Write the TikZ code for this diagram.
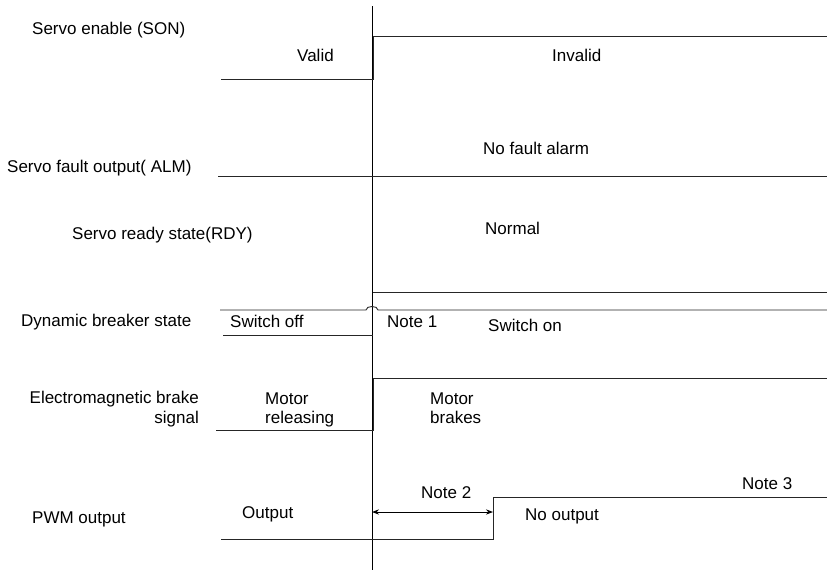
\documentclass[tikz,border=0pt]{standalone}
\usepackage{fontspec}
\setmainfont{Liberation Sans}
\usetikzlibrary{arrows.meta, positioning}

\begin{document}
\begin{tikzpicture}[
  x=1pt, y=-1pt,
  every node/.style={font=\fontsize{17}{19.5}\selectfont, inner sep=0pt},
  sig/.style={line width=0.9pt, black!85},
  lbl/.style={anchor=west, text height=12pt, text depth=0pt},
  lblr/.style={anchor=east, align=right},
  twoline/.style={anchor=west, align=left}
]
  \useasboundingbox (0,0) rectangle (827,573);

  % signal names
  \node[lbl] (sonname) at (32,28)  {Servo enable (SON)};
  \node[lbl] (almname) at (7,166)  {Servo fault output( ALM)};
  \node[lbl] (rdyname) at (72,233) {Servo ready state(RDY)};
  \node[lbl] (dbname)  at (21,320) {Dynamic breaker state};
  \node[lblr] (brkname) at (199,409) {Electromagnetic brake\\signal};
  \node[lbl] (pwmname) at (32,517) {PWM output};

  % states
  \node[lbl] (valid)   at (297,55)  {Valid};
  \node[lbl] (invalid) at (552,55)  {Invalid};
  \node[lbl] (nofault) at (483,148) {No fault alarm};
  \node[lbl] (normal)  at (485,228) {Normal};
  \node[lbl] (swoff)   at (230,321) {Switch off};
  \node[lbl] (note1)   at (387,321) {Note 1};
  \node[lbl] (swon)    at (488,325) {Switch on};
  \node[twoline] (release) at (265,410) {Motor\\releasing};
  \node[twoline] (brakes)  at (430,408) {Motor\\brakes};
  \node[lbl] (output)   at (242,512) {Output};
  \node[lbl] (note2)    at (421,492) {Note 2};
  \node[lbl] (nooutput) at (525,514) {No output};
  \node[lbl] (note3)    at (742,483) {Note 3};

  % time of SON off, and PWM cut
  \coordinate (ttop) at (372,6);
  \coordinate (tbot) at (372,570);
  \coordinate (pwmA) at (372,512);
  \coordinate (pwmB) at (493,512);
  \draw[line width=0.8pt] (ttop) -- (tbot);

  % waveforms
  \draw[sig] (221,79) -- (373,79) -- (373,36) -- (827,36);
  \draw[sig] (218,176) -- (827,176);
  \draw[sig] (373,292) -- (827,292);
  \draw[sig] (220,310) -- (366,310) to[out=90,in=90] (378,310) -- (827,310);
  \draw[sig] (223,335) -- (373,335);
  \draw[sig] (216,430) -- (373,430) -- (373,378) -- (827,378);
  \draw[sig] (221,539) -- (493,539) -- (493,497) -- (827,497);

  \draw[{Stealth[length=7pt]}-{Stealth[length=7pt]}, line width=0.9pt] (pwmA) -- (pwmB);
\end{tikzpicture}
\end{document}
